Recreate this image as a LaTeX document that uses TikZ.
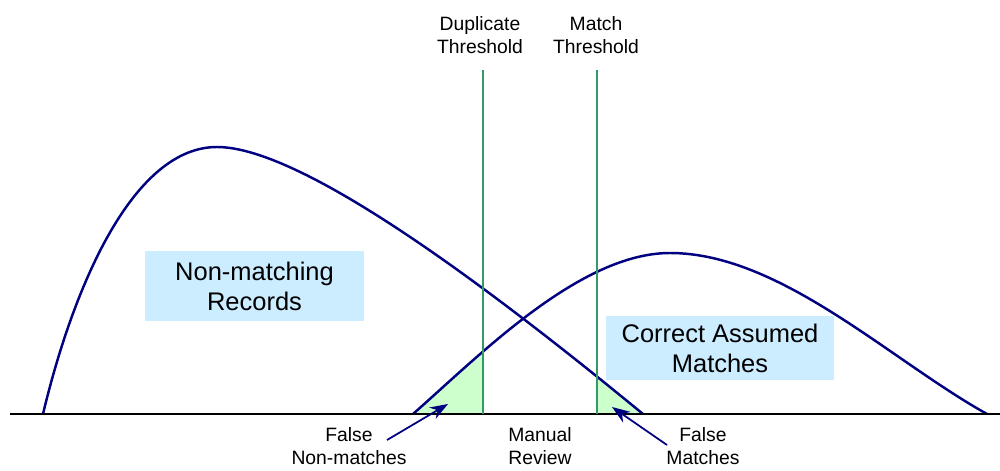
\documentclass[tikz,border=0pt]{standalone}
\usepackage{fontspec}
\setmainfont{Liberation Sans}
\usetikzlibrary{arrows.meta}
\definecolor{curveblue}{RGB}{0,0,128}
\definecolor{threshgreen}{RGB}{51,153,102}
\definecolor{areagreen}{RGB}{204,255,204}
\definecolor{boxblue}{RGB}{204,236,255}
\tikzset{
  curve/.style={curveblue, line width=1.4pt},
  threshold/.style={threshgreen, line width=1.3pt},
  region/.style={fill=boxblue, inner sep=0pt, align=center, font=\fontsize{14.5}{17}\selectfont},
  smalllabel/.style={align=center, inner sep=0pt, font=\fontsize{11}{13}\selectfont},
  pointer/.style={curveblue, line width=1pt, -{Stealth[length=3.6mm, width=2.6mm]}}
}
\begin{document}
\begin{tikzpicture}[x=0.02cm, y=-0.02cm]
            \useasboundingbox (0,0) rectangle (1000,470);
            % shaded tails
            \begin{scope}
                \clip (413,0) rectangle (483,414);
                \fill [areagreen] (413,414) .. controls (480,355) and (580,253) .. (670,253)
                    .. controls (780,253) and (890,360) .. (987,414) -- cycle;
            \end{scope}
            \begin{scope}
                \clip (597,0) rectangle (650,414);
                \fill [areagreen] (43,414) .. controls (75,280) and (135,147) .. (217,147)
                    .. controls (300,147) and (480,280) .. (643,414) -- cycle;
            \end{scope}
            % distributions
            \draw [curve] (43,414) .. controls (75,280) and (135,147) .. (217,147)
                .. controls (300,147) and (480,280) .. (643,414);
            \draw [curve] (413,414) .. controls (480,355) and (580,253) .. (670,253)
                .. controls (780,253) and (890,360) .. (987,414);
            \draw [line width=1.1pt] (10,414) -- (1000,414);
            % thresholds
            \node [smalllabel] (dup) at (480,35) {Duplicate\\Threshold};
            \node [smalllabel] (match) at (596,35) {Match\\Threshold};
            \coordinate (duptop) at (483,70);
            \coordinate (dupbot) at (483,414);
            \coordinate (matchtop) at (597,70);
            \coordinate (matchbot) at (597,414);
            \draw [threshold] (duptop) -- (dupbot);
            \draw [threshold] (matchtop) -- (matchbot);
            % labels
            \node [region, minimum width=4.38cm, minimum height=1.4cm] (nonmatch) at (254.5,286) {Non-matching\\Records};
            \node [region, minimum width=4.56cm, minimum height=1.28cm] (correct) at (720,348) {Correct Assumed\\Matches};
            \node [smalllabel] (falsenon) at (349,446) {False\\Non-matches};
            \node [smalllabel] (manual) at (540,446) {Manual\\Review};
            \node [smalllabel] (falsematch) at (703,446) {False\\Matches};
            \coordinate (fntip) at (448,404);
            \coordinate (fmtip) at (612,407);
            \draw [pointer] (387,440) -- (fntip);
            \draw [pointer] (667,445) -- (fmtip);
        \end{tikzpicture}
\end{document}
